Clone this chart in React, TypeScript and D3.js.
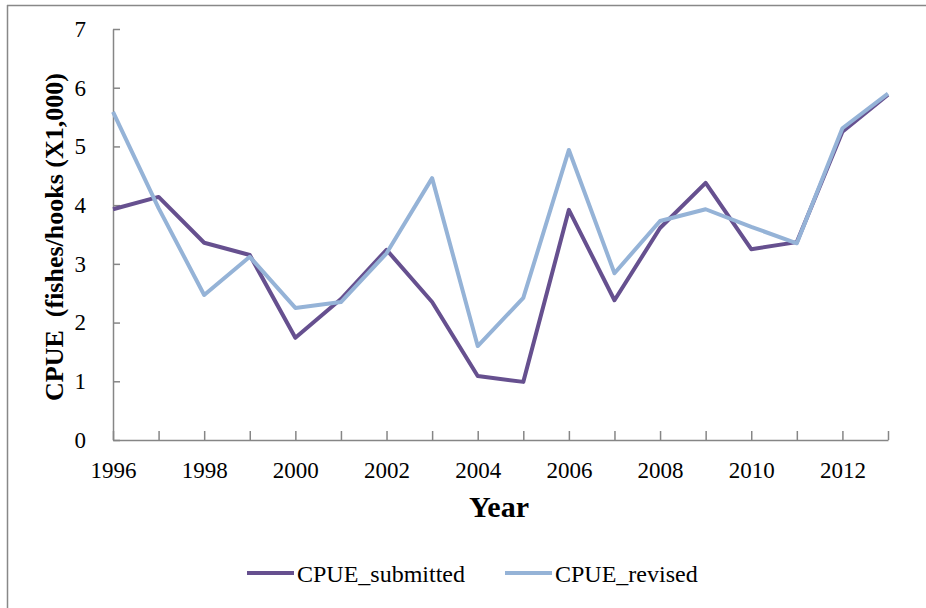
import React, { useEffect, useRef } from 'react';
import { axisBottom, axisLeft, line, scaleLinear, select } from 'd3';

const years = [1996, 1997, 1998, 1999, 2000, 2001, 2002, 2003, 2004, 2005, 2006, 2007, 2008, 2009, 2010, 2011, 2012, 2013];
const submitted = [3.93, 4.14, 3.36, 3.15, 1.74, 2.4, 3.24, 2.35, 1.09, 0.99, 3.92, 2.38, 3.61, 4.38, 3.25, 3.37, 5.25, 5.88];
const revised = [5.59, 3.95, 2.47, 3.12, 2.25, 2.35, 3.18, 4.46, 1.6, 2.42, 4.94, 2.84, 3.73, 3.93, 3.63, 3.35, 5.31, 5.9];
const yTicks = [0, 1, 2, 3, 4, 5, 6, 7];
const xLabelYears = [1996, 1998, 2000, 2002, 2004, 2006, 2008, 2010, 2012];
const seriesNames = ['CPUE_submitted', 'CPUE_revised'];
const seriesColors = ['#66508f', '#95b3d7'];

const W = 926;
const H = 608;

const App = () => {
  const svgRef = useRef<SVGSVGElement>(null);

  useEffect(() => {
    const svg = select(svgRef.current);
    svg.selectAll('*').remove();

    const x = scaleLinear().domain([1996, 2013]).range([113, 888]);
    const y = scaleLinear().domain([0, 7]).range([440, 29]);
    const font = '"Liberation Serif", "Times New Roman", serif';

    // frame of the image (top and left only)
    svg.append('line').attr('x1', 7).attr('x2', W).attr('y1', 5.5).attr('y2', 5.5)
      .attr('stroke', '#888').attr('stroke-width', 1.5);
    svg.append('line').attr('x1', 7.5).attr('x2', 7.5).attr('y1', 5).attr('y2', H)
      .attr('stroke', '#888').attr('stroke-width', 1.5);

    // y axis, ticks pointing inside
    const yAxis = svg.append('g').attr('transform', 'translate(113,0)')
      .call(axisLeft(y).tickValues(yTicks).tickSizeInner(-7).tickSizeOuter(0).tickPadding(27).tickFormat(d => String(d)));
    yAxis.select('.domain').attr('stroke', '#868686').attr('stroke-width', 1.5);
    yAxis.selectAll('.tick line').attr('stroke', '#868686').attr('stroke-width', 1.5);
    yAxis.selectAll('text').attr('font-family', font).attr('font-size', 23).attr('fill', '#000');

    // x axis, ticks every year pointing up, labels every two years
    const xAxis = svg.append('g').attr('transform', 'translate(0,440)')
      .call(axisBottom(x).tickValues(years).tickSizeInner(-9).tickSizeOuter(0).tickPadding(22)
        .tickFormat(d => (xLabelYears.includes(+d) ? String(d) : '')));
    xAxis.select('.domain').attr('stroke', '#868686').attr('stroke-width', 1.5);
    xAxis.selectAll('.tick line').attr('stroke', '#868686').attr('stroke-width', 1.5);
    xAxis.selectAll('text').attr('font-family', font).attr('font-size', 23).attr('fill', '#000');

    // series
    const gen = line<number>().x((_, i) => x(years[i])).y(d => y(d));
    [submitted, revised].forEach((vals, k) => {
      svg.append('path').attr('d', gen(vals) as string).attr('fill', 'none')
        .attr('stroke', seriesColors[k]).attr('stroke-width', 4).attr('stroke-linejoin', 'round');
    });

    // axis titles
    svg.append('text').attr('x', 499).attr('y', 517).attr('text-anchor', 'middle')
      .attr('font-family', font).attr('font-weight', 'bold').attr('font-size', 30).text('Year');
    svg.append('text').attr('transform', 'translate(63,237) rotate(-90)').attr('text-anchor', 'middle')
      .attr('font-family', font).attr('font-weight', 'bold').attr('font-size', 26)
      .attr('xml:space', 'preserve').text('CPUE  (fishes/hooks (X1,000)');

    // legend
    const legendX = [247, 505];
    seriesNames.forEach((name, k) => {
      svg.append('line').attr('x1', legendX[k]).attr('x2', legendX[k] + 47).attr('y1', 573).attr('y2', 573)
        .attr('stroke', seriesColors[k]).attr('stroke-width', 4);
      svg.append('text').attr('x', legendX[k] + 50).attr('y', 582).attr('font-family', font)
        .attr('font-size', 24).attr('fill', '#000').text(name);
    });
  }, []);

  return (
    <svg ref={svgRef} width={W} height={H}
      style={{ position: 'absolute', left: 0, top: 0, background: '#fff' }} />
  );
};

export default App;
